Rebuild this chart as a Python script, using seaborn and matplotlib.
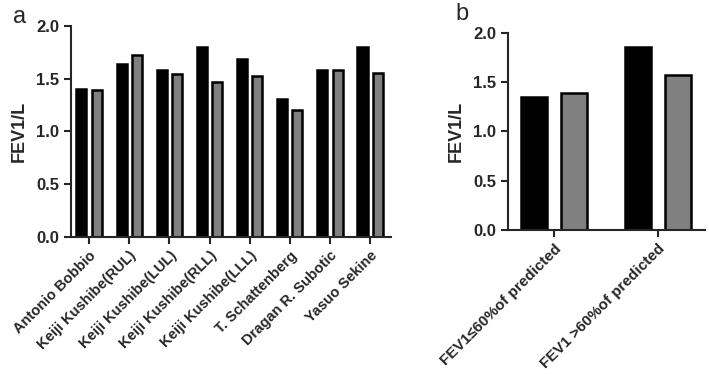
import numpy as np
import pandas as pd
import matplotlib.pyplot as plt
import seaborn as sns

sns.set_style('ticks')
plt.rcParams['font.family'] = ['Liberation Sans', 'DejaVu Sans']

# данные панели a
studies = ["Antonio Bobbio", "Keiji Kushibe(RUL)", "Keiji Kushibe(LUL)",
           "Keiji Kushibe(RLL)", "Keiji Kushibe(LLL)", "T. Schattenberg",
           "Dragan R. Subotic", "Yasuo Sekine"]
fev1_pre = [1.40, 1.64, 1.585, 1.80, 1.685, 1.305, 1.585, 1.80]
fev1_post = [1.395, 1.725, 1.545, 1.465, 1.525, 1.20, 1.58, 1.557]

# данные панели b
groups = ["FEV1\u226460%of predicted", "FEV1 >60%of predicted"]
grp_pre = [1.35, 1.86]
grp_post = [1.395, 1.57]

phases = ["pre", "post"]
pal = {"pre": "black", "post": "#808080"}

df_a = pd.DataFrame({
    "study": studies * 2,
    "phase": ["pre"] * len(studies) + ["post"] * len(studies),
    "fev1": fev1_pre + fev1_post,
})
df_b = pd.DataFrame({
    "group": groups * 2,
    "phase": ["pre"] * len(groups) + ["post"] * len(groups),
    "fev1": grp_pre + grp_post,
})

fig = plt.figure(figsize=(7.09, 3.74), dpi=100)
ax1 = fig.add_axes([0.1001, 0.3663, 0.4514, 0.5642])
ax2 = fig.add_axes([0.7165, 0.385, 0.2779, 0.5268])

for ax, data, x, xfs in [(ax1, df_a, "study", 10.5), (ax2, df_b, "group", 11)]:
    sns.barplot(data=data, x=x, y="fev1", hue="phase", hue_order=phases,
                palette=pal, width=0.76, gap=0.34, edgecolor="black",
                linewidth=1.8, saturation=1, legend=False, ax=ax)
    ax.set_ylim(0, 2.0)
    ax.set_yticks([0, 0.5, 1.0, 1.5, 2.0])
    ax.set_yticklabels(["0.0", "0.5", "1.0", "1.5", "2.0"])
    ax.set_xlabel("")
    ax.set_ylabel("FEV1/L", fontsize=13, fontweight="bold", labelpad=6)
    sns.despine(ax=ax)
    for s in ["left", "bottom"]:
        ax.spines[s].set_linewidth(1.5)
    ax.tick_params(width=1.5, length=5)
    ax.tick_params(axis="y", labelsize=12)
    ax.tick_params(axis="x", labelsize=xfs)
    for lab in ax.get_yticklabels():
        lab.set_fontweight("bold")
    plt.setp(ax.get_xticklabels(), rotation=45, ha="right",
             rotation_mode="anchor", fontweight="bold")

ax1.set_xlim(-0.45, 7.52)
ax2.set_xlim(-0.44, 1.45)

fig.text(0.018, 0.955, "a", fontsize=17, va="center")
fig.text(0.643, 0.962, "b", fontsize=17, va="center")

fig.savefig("out.png", dpi=100)
